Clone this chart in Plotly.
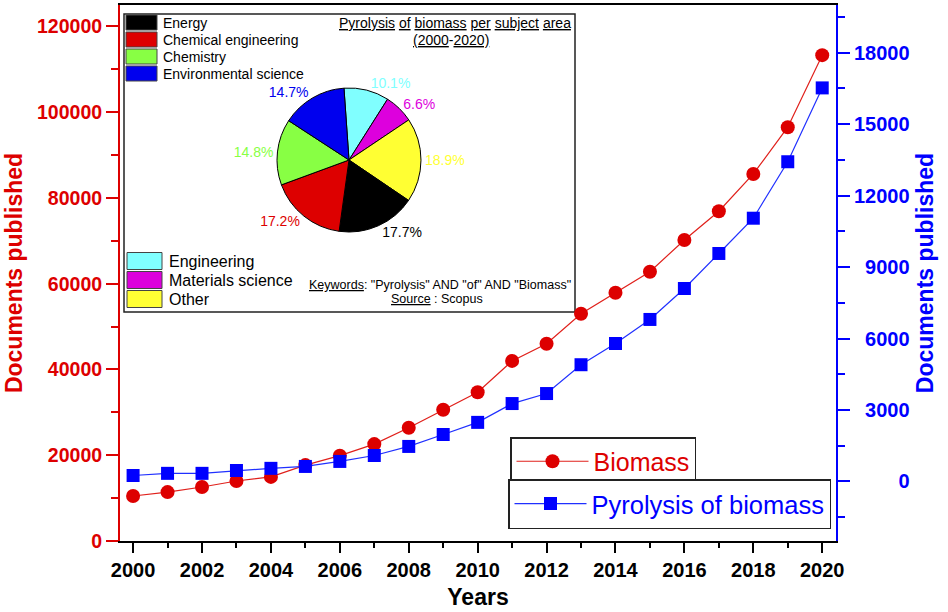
import plotly.graph_objects as go

# ---------------- data ----------------
years = list(range(2000, 2021))
biomass = [10500, 11400, 12600, 14000, 14950, 17700, 19900, 22600, 26400, 30600,
           34700, 42000, 46000, 53000, 57900, 62800, 70200, 76900, 85600, 96500, 113300]
pyrolysis = [250, 340, 340, 460, 550, 630, 840, 1090, 1470, 1970,
             2480, 3270, 3690, 4900, 5790, 6800, 8100, 9570, 11050, 13420, 16520]

subject_areas = ["Engineering", "Materials science", "Other", "Energy",
                 "Chemical engineering", "Chemistry", "Environmental science"]
subject_shares = [10.1, 6.6, 18.9, 17.7, 17.2, 14.8, 14.7]
subject_colors = ["#80FFFF", "#DD00DD", "#FFFF33", "#000000",
                  "#DD0000", "#88FF44", "#0000EE"]
legend_top = ["Energy", "Chemical engineering", "Chemistry", "Environmental science"]
legend_bottom = ["Engineering", "Materials science", "Other"]

left_ticks = [0, 20000, 40000, 60000, 80000, 100000, 120000]
right_ticks = [0, 3000, 6000, 9000, 12000, 15000, 18000]
x_ticks = list(range(2000, 2021, 2))

RED = "#DD0000"
BLUE = "#0000FF"
FONT = "Liberation Sans, Arial, sans-serif"

# ---------------- layout helpers (pixel -> paper) ----------------
L, R, T, B = 120, 836, 5, 541
W, H = 948, 612
def px(x):
    return (x - L) / (R - L)
def py(y):
    return (B - y) / (B - T)

color_of = dict(zip(subject_areas, subject_colors))

fig = go.Figure()

fig.add_trace(go.Scatter(
    x=years, y=biomass, name="Biomass", mode="lines+markers",
    line=dict(color="#E0201B", width=1.2),
    marker=dict(symbol="circle", size=14, color=RED),
    legend="legend2", yaxis="y"))

fig.add_trace(go.Scatter(
    x=years, y=pyrolysis, name="Pyrolysis of biomass", mode="lines+markers",
    line=dict(color="#2030FF", width=1.2),
    marker=dict(symbol="square", size=13, color=BLUE),
    legend="legend3", yaxis="y2"))

# pie inset
cx, cy, r = 349, 160, 72
fig.add_trace(go.Pie(
    labels=subject_areas, values=subject_shares, sort=False,
    direction="clockwise", rotation=-4,
    marker=dict(colors=subject_colors, line=dict(color="#000000", width=1)),
    textposition="outside", texttemplate="%{value:.1f}%",
    textfont=dict(family=FONT, size=14, color=subject_colors),
    showlegend=False, hoverinfo="label+value",
    domain=dict(x=[px(cx - r), px(cx + r)], y=[py(cy + r), py(cy - r)])))

shapes = []
annotations = []

# inset frame
shapes.append(dict(type="rect", xref="paper", yref="paper", layer="below",
                   x0=px(124), x1=px(575), y0=py(312), y1=py(14),
                   line=dict(color="#222222", width=1.5), fillcolor="white"))

# inset legend (top group)
for i, name in enumerate(legend_top):
    yc = 22.5 + i * 17
    shapes.append(dict(type="rect", xref="paper", yref="paper",
                       x0=px(126), x1=px(157), y0=py(yc + 7.5), y1=py(yc - 7.5),
                       line=dict(color="#444444", width=1), fillcolor=color_of[name]))
    annotations.append(dict(xref="paper", yref="paper", x=px(161), y=py(yc),
                            xanchor="left", yanchor="middle", showarrow=False,
                            text=name, font=dict(family=FONT, size=14, color="black")))
# inset legend (bottom group)
for i, name in enumerate(legend_bottom):
    yc = 261 + i * 19
    shapes.append(dict(type="rect", xref="paper", yref="paper",
                       x0=px(127), x1=px(162), y0=py(yc + 8.5), y1=py(yc - 8.5),
                       line=dict(color="#444444", width=1), fillcolor=color_of[name]))
    annotations.append(dict(xref="paper", yref="paper", x=px(167), y=py(yc),
                            xanchor="left", yanchor="middle", showarrow=False,
                            text=name, font=dict(family=FONT, size=16, color="black")))

# inset titles
annotations.append(dict(xref="paper", yref="paper", x=px(573), y=py(23),
                        xanchor="right", yanchor="middle", showarrow=False,
                        text="<u>Pyrolysis</u> <u>of</u> <u>biomass</u> <u>per</u> <u>subject</u> <u>area</u>",
                        font=dict(family=FONT, size=14, color="black")))
annotations.append(dict(xref="paper", yref="paper", x=px(451), y=py(40),
                        xanchor="center", yanchor="middle", showarrow=False,
                        text="<u>(2000</u>-<u>2020)</u>",
                        font=dict(family=FONT, size=14, color="black")))
annotations.append(dict(xref="paper", yref="paper", x=px(440), y=py(285),
                        xanchor="center", yanchor="middle", showarrow=False,
                        text='<u>Keywords</u>: "Pyrolysis" AND "of" AND "Biomass"',
                        font=dict(family=FONT, size=12.5, color="black")))
annotations.append(dict(xref="paper", yref="paper", x=px(437), y=py(299),
                        xanchor="center", yanchor="middle", showarrow=False,
                        text="<u>Source</u> : Scopus",
                        font=dict(family=FONT, size=12.5, color="black")))

right_text = [f"{v:>5}".replace(" ", "\u2007") for v in right_ticks]

legend_common = dict(bgcolor="white", bordercolor="#222222", borderwidth=1.5,
                     xanchor="left", yanchor="top", itemwidth=72)

fig.update_layout(
    width=W, height=H,
    margin=dict(l=L, r=W - R, t=T, b=H - B, autoexpand=False),
    paper_bgcolor="white", plot_bgcolor="white",
    showlegend=True,
    legend2=dict(**legend_common, font=dict(family=FONT, size=25, color=RED),
                 x=px(510), y=py(437)),
    legend3=dict(**legend_common, font=dict(family=FONT, size=25.5, color=BLUE),
                 x=px(508), y=py(479)),
    xaxis=dict(range=[1999.62, 2020.4], tickmode="array", tickvals=x_ticks,
               ticktext=[str(v) for v in x_ticks],
               ticks="outside", ticklen=10, tickwidth=1.5, tickcolor="black",
               minor=dict(dtick=1, ticks="outside", ticklen=5, tickwidth=1.5, tickcolor="black"),
               showline=True, linecolor="black", linewidth=2, mirror=True,
               showgrid=False, zeroline=False, automargin=False,
               tickfont=dict(family=FONT, size=20, color="black", weight="bold"),
               title=dict(text="<b>Years</b>", standoff=9,
                          font=dict(family=FONT, size=23, color="black"))),
    yaxis=dict(range=[0, 125000], tickmode="array", tickvals=left_ticks,
               ticktext=[str(v) for v in left_ticks],
               ticks="outside", ticklen=12, tickwidth=1.5, tickcolor=RED,
               minor=dict(dtick=10000, ticks="outside", ticklen=7, tickwidth=1.5, tickcolor=RED),
               showline=True, linecolor=RED, linewidth=2,
               showgrid=False, zeroline=False, automargin=False,
               tickfont=dict(family=FONT, size=19.5, color=RED, weight="bold"),
               title=dict(text="<b>Documents published</b>", standoff=8,
                          font=dict(family=FONT, size=23, color=RED))),
    yaxis2=dict(range=[-2500, 20000], overlaying="y", side="right",
                tickmode="array", tickvals=right_ticks, ticktext=right_text,
                ticks="outside", ticklen=12, tickwidth=1.5, tickcolor=BLUE,
                minor=dict(tick0=0, dtick=1500, ticks="outside", ticklen=7, tickwidth=1.5, tickcolor=BLUE),
                showline=True, linecolor=BLUE, linewidth=2,
                showgrid=False, zeroline=False, automargin=False,
                tickfont=dict(family=FONT, size=20, color=BLUE, weight="bold"),
                title=dict(text="<b>Documents published</b>", standoff=8,
                           font=dict(family=FONT, size=23, color=BLUE))),
    shapes=shapes, annotations=annotations,
)

fig.write_html("out.html", config={"displayModeBar": False},
               post_script="document.body.style.margin='0';")
